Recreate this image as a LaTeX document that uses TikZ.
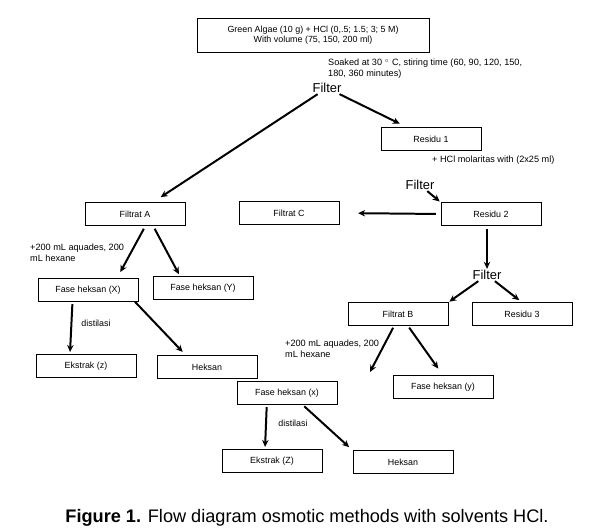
\documentclass[tikz,border=0pt]{standalone}
\usepackage{fontspec}
\setmainfont{Liberation Sans}
\usetikzlibrary{arrows.meta,positioning}

\begin{document}
\begin{tikzpicture}[
    x=0.03cm, y=-0.03cm,
    box/.style={draw, rectangle, line width=0.6pt, minimum width=3cm, minimum height=0.68cm, inner sep=0pt, align=center, font=\fontsize{7.6}{9}\selectfont},
    filt/.style={font=\fontsize{11}{13}\selectfont, inner sep=1pt},
    note/.style={align=left, anchor=west, inner sep=0pt, font=\fontsize{7.8}{9.5}\selectfont},
    arrow/.style={-{Stealth[length=6pt,width=5.5pt]}, line width=1.7pt}
]
    \useasboundingbox (0,0) rectangle (594,528);

    \node[box, minimum width=6.96cm, minimum height=1.02cm] (algae) at (313,35) {Green Algae (10 g) + HCl (0,.5; 1.5; 3; 5 M)\\With volume (75, 150, 200 ml)};
    \node[note] (soak) at (328,69) {Soaked at 30 $^{\circ}$ C, stiring time (60, 90, 120, 150,\\180, 360 minutes)};
    \node[filt] (filter1) at (327,88) {Filter};

    \node[box] (residu1) at (431,139) {Residu 1};
    \node[note] (hcl) at (432,160) {+ HCl molaritas with (2x25 ml)};
    \node[filt] (filter2) at (420,185) {Filter};

    \node[box] (filtratA) at (135,214) {Filtrat A};
    \node[box] (filtratC) at (289,213) {Filtrat C};
    \node[box] (residu2) at (491,214) {Residu 2};
    \node[filt] (filter3) at (487,275) {Filter};

    \node[box] (faseX) at (88,290) {Fase heksan (X)};
    \node[box] (faseY) at (203,288) {Fase heksan (Y)};
    \node[note] (aqua1) at (30,253) {+200 mL aquades, 200\\mL hexane};
    \node[font=\fontsize{7.6}{9}\selectfont] (dist1) at (96,323) {distilasi};
    \node[box] (ekstrak1) at (86,366) {Ekstrak (z)};
    \node[box] (heksan1) at (207,367) {Heksan};

    \node[box] (filtratB) at (398,314) {Filtrat B};
    \node[box] (residu3) at (522,314) {Residu 3};
    \node[note] (aqua2) at (285,349) {+200 mL aquades, 200\\mL hexane};
    \node[box] (fasey) at (443,387) {Fase heksan (y)};
    \node[box] (fasex) at (287,393) {Fase heksan (x)};
    \node[font=\fontsize{7.6}{9}\selectfont] (dist2) at (293,423) {distilasi};
    \node[box] (ekstrak2) at (272,461) {Ekstrak (Z)};
    \node[box] (heksan2) at (403,462) {Heksan};
    \coordinate (tipB) at (370,372);

    \draw[arrow, shorten >=8pt] (filter1) -- (filtratA);
    \draw[arrow, shorten >=7pt] (filter1) -- (residu1);
    \draw[arrow, shorten >=1pt] (filter2) -- (residu2.north west);
    \draw[arrow, shorten <=4pt, shorten >=16pt] (residu2.west) -- (filtratC.east);
    \draw[arrow, shorten <=3pt] (filter3 |- residu2.south) -- (filter3.north);
    \draw[arrow, shorten >=1pt] (filter3) -- (filtratB.north east);
    \draw[arrow, shorten >=3pt] (filter3) -- (residu3.north);

    \draw[arrow, shorten <=3pt, shorten >=6pt] (filtratA.-48) -- (faseX.22);
    \draw[arrow, shorten <=3pt, shorten >=2pt] (filtratA.-33) -- (faseY.153);
    \draw[arrow, shorten <=2pt, shorten >=2pt] (faseX.-143) -- (ekstrak1.144);
    \draw[arrow, shorten >=4pt] (faseX.-14) -- (heksan1.151);

    \draw[arrow, shorten <=2pt] (filtratB.-108) -- (tipB);
    \draw[arrow, shorten <=2pt, shorten >=7pt] (filtratB.-50) -- (fasey.north);
    \draw[arrow, shorten <=2pt, shorten >=2pt] (fasex.210) -- (ekstrak2.121);
    \draw[arrow, shorten <=2pt, shorten >=4pt] (fasex.-37) -- (heksan2.north west);

    \node[font=\fontsize{15.5}{18}\selectfont] (caption) at (307,518) {\textbf{Figure 1.} Flow diagram osmotic methods with solvents HCl.};
\end{tikzpicture}
\end{document}
